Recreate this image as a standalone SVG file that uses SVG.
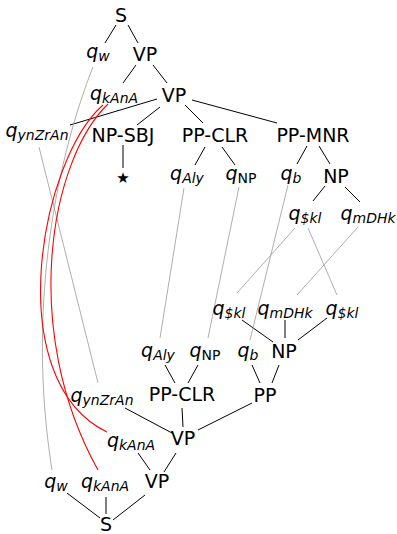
<svg xmlns="http://www.w3.org/2000/svg" width="397" height="534" viewBox="0 0 397 534">
  <style>
    text { font-family: "DejaVu Sans", sans-serif; font-size: 19px; fill: #000; text-anchor: middle; }
    .q { font-style: italic; }
    .sub { font-size: 14px; }
    .up { font-style: normal; }
    .star { font-size: 15px; }
    .edge { stroke: #000; stroke-width: 1; fill: none; }
    .link { stroke: #999; stroke-width: 0.8; fill: none; }
    .align { stroke: #f00; stroke-width: 1.1; fill: none; }
  </style>

  <!-- connectors -->
  <g id="connectors">
    <!-- upper tree -->
    <line class="edge" x1="116" y1="25" x2="105" y2="43"/>
    <line class="edge" x1="128" y1="25" x2="138" y2="43"/>
    <line class="edge" x1="136" y1="65" x2="123" y2="83"/>
    <line class="edge" x1="153" y1="65" x2="167" y2="83"/>
    <line class="edge" x1="157" y1="99" x2="70" y2="125"/>
    <line class="edge" x1="160" y1="107" x2="137" y2="125"/>
    <line class="edge" x1="185" y1="105" x2="203" y2="123"/>
    <line class="edge" x1="192" y1="100" x2="277" y2="123"/>
    <line class="edge" x1="123" y1="145" x2="123" y2="168"/>
    <line class="edge" x1="205" y1="147" x2="195" y2="165"/>
    <line class="edge" x1="222" y1="147" x2="235" y2="165"/>
    <line class="edge" x1="307" y1="146" x2="297" y2="164"/>
    <line class="edge" x1="319" y1="146" x2="330" y2="164"/>
    <line class="edge" x1="325" y1="186" x2="313" y2="201"/>
    <line class="edge" x1="345" y1="187" x2="360" y2="202"/>

    <!-- lower tree -->
    <line class="edge" x1="242" y1="320" x2="273" y2="342"/>
    <line class="edge" x1="285" y1="320" x2="285" y2="338"/>
    <line class="edge" x1="327" y1="318" x2="298" y2="340"/>
    <line class="edge" x1="165" y1="365" x2="175" y2="383"/>
    <line class="edge" x1="198" y1="365" x2="188" y2="383"/>
    <line class="edge" x1="252" y1="365" x2="260" y2="383"/>
    <line class="edge" x1="279" y1="365" x2="272" y2="383"/>
    <line class="edge" x1="125" y1="408" x2="172" y2="433"/>
    <line class="edge" x1="182" y1="408" x2="183" y2="427"/>
    <line class="edge" x1="252" y1="403" x2="198" y2="430"/>
    <line class="edge" x1="138" y1="453" x2="150" y2="470"/>
    <line class="edge" x1="176" y1="453" x2="164" y2="472"/>
    <line class="edge" x1="67" y1="493" x2="100" y2="518"/>
    <line class="edge" x1="106" y1="497" x2="106" y2="514"/>
    <line class="edge" x1="145" y1="495" x2="113" y2="520"/>

    <!-- links between the two trees -->
    <path class="link" d="M93,67 C60,150 25,300 52,470"/>
    <line class="link" x1="39" y1="147" x2="98" y2="383"/>
    <line class="link" x1="184" y1="188" x2="160" y2="338"/>
    <line class="link" x1="239" y1="187" x2="208" y2="338"/>
    <line class="link" x1="288" y1="185" x2="250" y2="340"/>
    <line class="link" x1="295" y1="228" x2="237" y2="293"/>
    <line class="link" x1="308" y1="228" x2="337" y2="295"/>
    <line class="link" x1="358" y1="227" x2="297" y2="295"/>

    <path class="align" d="M103,105 C40,160 0,380 107,432"/>
    <path class="align" d="M108,104 C50,160 20,330 98,470"/>
  </g>

  <!-- upper tree nodes -->
  <g id="u-S"><text x="121" y="22">S</text></g>
  <g id="u-qw"><text class="q" x="98" y="58">q<tspan class="sub" dy="3">w</tspan></text></g>
  <g id="u-VP1"><text x="145" y="61">VP</text></g>
  <g id="u-qkAnA"><text class="q" x="114" y="100">q<tspan class="sub" dy="3">kAnA</tspan></text></g>
  <g id="u-VP2"><text x="174" y="102">VP</text></g>
  <g id="u-qynZrAn"><text class="q" x="37" y="137">q<tspan class="sub" dy="3">ynZrAn</tspan></text></g>
  <g id="u-NPSBJ"><text x="123" y="142">NP-SBJ</text></g>
  <g id="u-star"><text class="star" x="123" y="183">★</text></g>
  <g id="u-PPCLR"><text x="215" y="142">PP-CLR</text></g>
  <g id="u-PPMNR"><text x="313" y="142">PP-MNR</text></g>
  <g id="u-qAly"><text class="q" x="187" y="180">q<tspan class="sub" dy="3">Aly</tspan></text></g>
  <g id="u-qNP"><text class="q" x="241" y="180">q<tspan class="sub up" dy="3">NP</tspan></text></g>
  <g id="u-qb"><text class="q" x="291" y="180">q<tspan class="sub" dy="3">b</tspan></text></g>
  <g id="u-NP"><text x="336" y="183">NP</text></g>
  <g id="u-qskl"><text class="q" x="305" y="220">q<tspan class="sub" dy="3">$kl</tspan></text></g>
  <g id="u-qmDHk"><text class="q" x="368" y="220">q<tspan class="sub" dy="3">mDHk</tspan></text></g>

  <!-- lower tree nodes -->
  <g id="l-qskl1"><text class="q" x="229" y="315">q<tspan class="sub" dy="3">$kl</tspan></text></g>
  <g id="l-qmDHk"><text class="q" x="285" y="315">q<tspan class="sub" dy="3">mDHk</tspan></text></g>
  <g id="l-qskl2"><text class="q" x="342" y="315">q<tspan class="sub" dy="3">$kl</tspan></text></g>
  <g id="l-qAly"><text class="q" x="158" y="357">q<tspan class="sub" dy="3">Aly</tspan></text></g>
  <g id="l-qNP"><text class="q" x="205" y="357">q<tspan class="sub up" dy="3">NP</tspan></text></g>
  <g id="l-qb"><text class="q" x="248" y="357">q<tspan class="sub" dy="3">b</tspan></text></g>
  <g id="l-NP"><text x="284" y="358">NP</text></g>
  <g id="l-qynZrAn"><text class="q" x="102" y="402">q<tspan class="sub" dy="3">ynZrAn</tspan></text></g>
  <g id="l-PPCLR"><text x="182" y="401">PP-CLR</text></g>
  <g id="l-PP"><text x="265" y="402">PP</text></g>
  <g id="l-qkAnA1"><text class="q" x="131" y="447">q<tspan class="sub" dy="3">kAnA</tspan></text></g>
  <g id="l-VP1"><text x="183" y="445">VP</text></g>
  <g id="l-qw"><text class="q" x="56" y="488">q<tspan class="sub" dy="3">w</tspan></text></g>
  <g id="l-qkAnA2"><text class="q" x="105" y="488">q<tspan class="sub" dy="3">kAnA</tspan></text></g>
  <g id="l-VP2"><text x="157" y="488">VP</text></g>
  <g id="l-S"><text x="106" y="531">S</text></g>
</svg>
